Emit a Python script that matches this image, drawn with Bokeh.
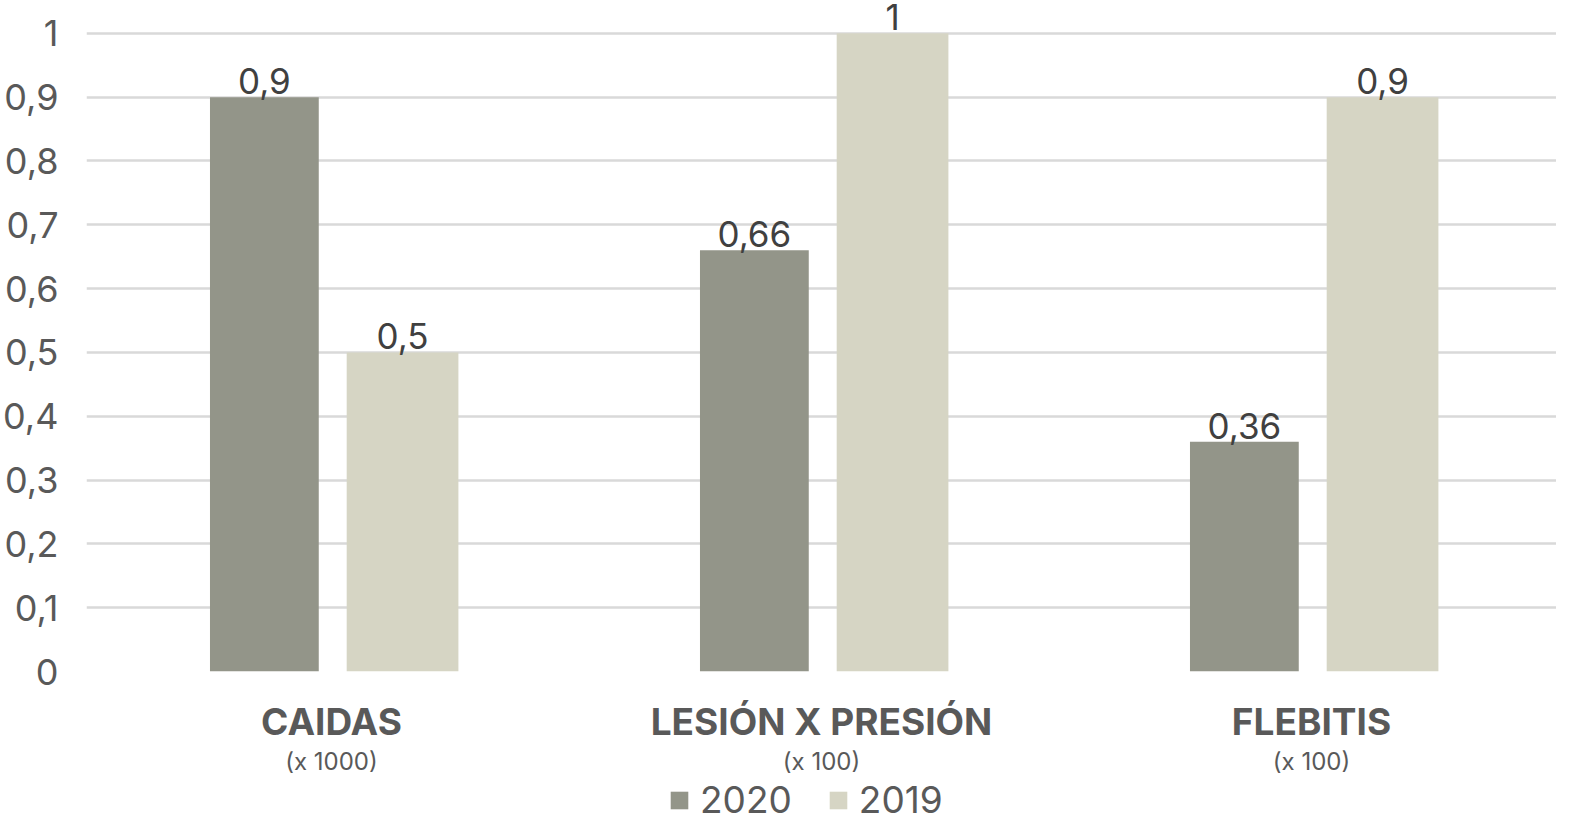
import json
from bokeh.plotting import figure
from bokeh.layouts import column
from bokeh.models import (ColumnDataSource, FactorRange, Range1d, FixedTicker,
                          CustomJSTickFormatter, CategoricalAxis, Legend, LegendItem)
from bokeh.transform import dodge
from bokeh.core.properties import value
from bokeh.embed import file_html
from bokeh.resources import INLINE

categories = ["CAIDAS", "LESIÓN X PRESIÓN", "FLEBITIS"]
subtitles = ["(x 1000)", "(x 100)", "(x 100)"]
series_names = ["2020", "2019"]
values_2020 = [0.9, 0.66, 0.36]
values_2019 = [0.5, 1.0, 0.9]
y_ticks = [0, 0.1, 0.2, 0.3, 0.4, 0.5, 0.6, 0.7, 0.8, 0.9, 1.0]

colors = ["#939589", "#D6D5C4"]
FONT = "Inter"
TXT = "#595959"

def fmt(v):
    return f"{v:g}".replace(".", ",")

src = ColumnDataSource(dict(
    cat=categories,
    v2020=values_2020,
    v2019=values_2019,
    l2020=[fmt(v) for v in values_2020],
    l2019=[fmt(v) for v in values_2019],
))

p = figure(
    width=1556, height=778,
    x_range=FactorRange(factors=categories, range_padding=0, factor_padding=0),
    y_range=Range1d(0, 1.0515),
    output_backend="svg", toolbar_location=None,
    min_border_left=76, min_border_right=0, min_border_top=0, min_border_bottom=104,
)
p.outline_line_color = None
p.background_fill_color = "white"

r1 = p.vbar(x=dodge("cat", -0.137, range=p.x_range), top="v2020", width=0.222,
            source=src, fill_color=colors[0], line_color=None)
r2 = p.vbar(x=dodge("cat", 0.145, range=p.x_range), top="v2019", width=0.228,
            source=src, fill_color=colors[1], line_color=None)

for off, col, lab in [(-0.137, "v2020", "l2020"), (0.145, "v2019", "l2019")]:
    p.text(x=dodge("cat", off, range=p.x_range), y=col, text=lab, source=src,
           text_align="center", text_baseline="alphabetic", y_offset=-16,
           text_font=value(FONT), text_font_size="35px", text_color="#404040")

# y axis
p.yaxis.ticker = FixedTicker(ticks=y_ticks)
p.yaxis.formatter = CustomJSTickFormatter(
    code="return (Math.round(tick*10)/10).toString().replace('.', ',');")
p.yaxis.axis_line_color = None
p.yaxis.major_tick_line_color = None
p.yaxis.minor_tick_line_color = None
p.yaxis.major_label_standoff = 22
p.yaxis.major_label_text_font = FONT
p.yaxis.major_label_text_font_size = "36px"
p.yaxis.major_label_text_color = TXT

p.ygrid.ticker = FixedTicker(ticks=y_ticks)
p.ygrid.grid_line_color = "#D9D9D9"
p.ygrid.grid_line_width = 2.5
p.xgrid.grid_line_color = None

# x axis: bold titles
xa = p.xaxis[0]
xa.axis_line_color = None
xa.major_tick_line_color = None
xa.minor_tick_line_color = None
xa.major_label_standoff = 21
xa.major_label_text_font = FONT
xa.major_label_text_font_style = "bold"
xa.major_label_text_font_size = "37px"
xa.major_label_text_color = TXT

# second x axis: subtitles
sub_map = json.dumps(dict(zip(categories, subtitles)), ensure_ascii=False)
xa2 = CategoricalAxis(formatter=CustomJSTickFormatter(
    code="const m = " + sub_map + "; return m[tick];"))
xa2.axis_line_color = None
xa2.major_tick_line_color = None
xa2.minor_tick_line_color = None
xa2.major_label_standoff = -6
xa2.major_label_text_font = FONT
xa2.major_label_text_font_size = "24px"
xa2.major_label_text_color = TXT
p.add_layout(xa2, "below")

# legend in its own strip below the chart (series bars drawn out of view)
lf = figure(width=1556, height=44, output_backend="svg", toolbar_location=None,
            x_range=FactorRange(factors=categories), y_range=Range1d(2, 3),
            min_border=0)
lf.axis.visible = False
lf.grid.visible = False
lf.outline_line_color = None
d1 = lf.vbar(x="cat", top="v2020", width=0.2, source=src,
             fill_color=colors[0], line_color=None)
d2 = lf.vbar(x="cat", top="v2019", width=0.2, source=src,
             fill_color=colors[1], line_color=None)
legend = Legend(items=[LegendItem(label=series_names[0], renderers=[d1]),
                       LegendItem(label=series_names[1], renderers=[d2])],
                orientation="horizontal", location=(582, 0))
legend.border_line_color = None
legend.background_fill_alpha = 0
legend.label_text_font = FONT
legend.label_text_font_size = "37px"
legend.label_text_color = TXT
legend.glyph_width = 22
legend.glyph_height = 22
legend.label_standoff = 10
legend.spacing = 35
legend.padding = 0
legend.margin = 0
lf.add_layout(legend, "center")

layout = column(p, lf, spacing=0)
open("out.html", "w").write(file_html(layout, INLINE))
